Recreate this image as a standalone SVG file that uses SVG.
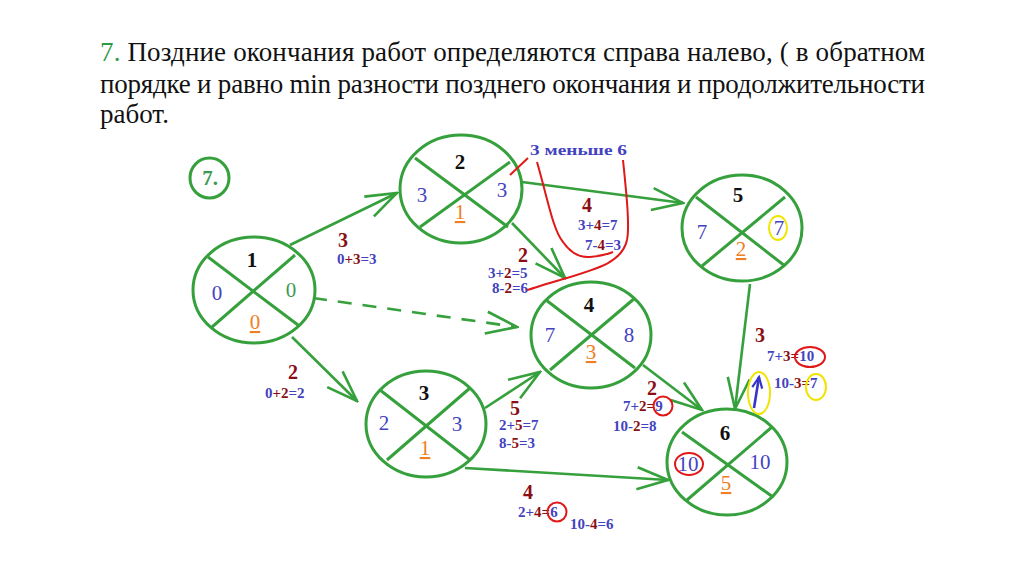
<svg xmlns="http://www.w3.org/2000/svg" width="1024" height="574" viewBox="0 0 1024 574" font-family="Liberation Serif, serif">
<style>
.title{font-size:27px;fill:#111}
.node .ring{fill:none;stroke:#35a03c;stroke-width:3}
.node line{stroke:#35a03c;stroke-width:3}
.n{font-size:21px;text-anchor:middle}
.num{font-weight:bold;fill:#111}
.bl{fill:#4343c0}
.or{fill:#f07e22;text-decoration:underline}
.gr{fill:#3c9a55}
.w{font-size:20px;font-weight:bold;fill:#8a0f14;text-anchor:middle}
.f{font-size:15px;font-weight:bold;fill:#4343c0}
.r{fill:#8a0f14}
.edge{fill:none;stroke:#35a03c;stroke-width:2.6;marker-end:url(#ah)}
.red{fill:none;stroke:#e01818;stroke-width:2}
.yel{fill:none;stroke:#f0e400;stroke-width:2}
</style>
<defs>
<marker id="ah" markerUnits="userSpaceOnUse" markerWidth="34" markerHeight="28" viewBox="0 0 34 28" refX="32" refY="14" orient="auto">
<path d="M1,3 L32,14 L1,25" fill="none" stroke="#35a03c" stroke-width="2.6"/>
</marker>
<marker id="bh" markerUnits="userSpaceOnUse" markerWidth="14" markerHeight="14" viewBox="0 0 14 14" refX="12" refY="7" orient="auto">
<path d="M1,2 L12,7 L1,12" fill="none" stroke="#3535c8" stroke-width="2.2"/>
</marker>
</defs>
<rect width="1024" height="574" fill="#fff"/>

<g id="title">
<text class="title" x="100" y="61" textLength="825" lengthAdjust="spacing"><tspan fill="#2e9a48">7.</tspan> Поздние окончания работ определяются справа налево, ( в обратном</text>
<text class="title" x="100" y="93" textLength="825" lengthAdjust="spacing">порядке и равно min разности позднего окончания и продолжительности</text>
<text class="title" x="100" y="123">работ.</text>
</g>

<g id="step-label" class="node">
<ellipse class="ring" cx="209.5" cy="178" rx="19.5" ry="20"/>
<text class="n" x="210" y="185" fill="#3c9a55" font-weight="bold" font-size="18">7.</text>
</g>

<g id="connectors">
<line class="edge" x1="290" y1="245" x2="397" y2="193"/>
<line class="edge" x1="313" y1="298" x2="517" y2="327" stroke-dasharray="14 11"/>
<line class="edge" x1="292" y1="337" x2="357" y2="401"/>
<line class="edge" x1="522" y1="182" x2="683" y2="203"/>
<line class="edge" x1="512" y1="223" x2="565" y2="278"/>
<line class="edge" x1="485" y1="408" x2="540" y2="372"/>
<line class="edge" x1="465" y1="468" x2="668" y2="480"/>
<line class="edge" x1="643" y1="365" x2="702" y2="410"/>
<line class="edge" x1="750" y1="284" x2="735" y2="409"/>
</g>

<g id="node1" class="node">
<ellipse class="ring" cx="254" cy="290" rx="61" ry="53"/>
<line x1="208" y1="257" x2="298" y2="325"/>
<line x1="295" y1="255" x2="212" y2="327"/>
<text class="n num" x="252" y="267">1</text>
<text class="n bl" x="217" y="300">0</text>
<text class="n gr" x="291" y="297">0</text>
<text class="n or" x="255" y="329">0</text>
</g>

<g id="node2" class="node">
<ellipse class="ring" cx="461" cy="189" rx="61" ry="54"/>
<line x1="415" y1="158" x2="508" y2="227"/>
<line x1="510" y1="162" x2="420" y2="227"/>
<text class="n num" x="460" y="169">2</text>
<text class="n bl" x="422" y="202">3</text>
<text class="n bl" x="502" y="197">3</text>
<text class="n or" x="460" y="219">1</text>
</g>

<g id="node3" class="node">
<ellipse class="ring" cx="426" cy="424" rx="60" ry="53"/>
<line x1="380" y1="390" x2="470" y2="460"/>
<line x1="470" y1="388" x2="387" y2="460"/>
<text class="n num" x="424" y="400">3</text>
<text class="n bl" x="384" y="430">2</text>
<text class="n bl" x="457" y="431">3</text>
<text class="n or" x="425" y="455">1</text>
</g>

<g id="node4" class="node">
<ellipse class="ring" cx="591" cy="335" rx="60" ry="53"/>
<line x1="546" y1="300" x2="635" y2="368"/>
<line x1="635" y1="298" x2="550" y2="370"/>
<text class="n num" x="589" y="312">4</text>
<text class="n bl" x="550" y="342">7</text>
<text class="n bl" x="629" y="342">8</text>
<text class="n or" x="591" y="359">3</text>
</g>

<g id="node5" class="node">
<ellipse class="ring" cx="742" cy="228" rx="60" ry="53"/>
<line x1="696" y1="197" x2="785" y2="266"/>
<line x1="785" y1="197" x2="702" y2="266"/>
<text class="n num" x="738" y="202">5</text>
<text class="n bl" x="702" y="239">7</text>
<text class="n bl" x="779" y="235">7</text>
<text class="n or" x="741" y="256">2</text>
<ellipse class="yel" cx="778" cy="228" rx="9" ry="12"/>
</g>

<g id="node6" class="node">
<ellipse class="ring" cx="727" cy="462" rx="60" ry="53"/>
<line x1="682" y1="432" x2="773" y2="497"/>
<line x1="772" y1="427" x2="687" y2="500"/>
<text class="n num" x="725" y="440">6</text>
<text class="n bl" x="688" y="471">10</text>
<text class="n bl" x="760" y="469">10</text>
<text class="n or" x="726" y="490">5</text>
<ellipse class="red" cx="689" cy="464" rx="14" ry="11"/>
</g>

<g id="labels">
<text class="w" x="343" y="247">3</text>
<text class="f" x="337" y="264">0<tspan class="r">+3</tspan>=3</text>

<text class="w" x="293" y="379">2</text>
<text class="f" x="265" y="398">0<tspan class="r">+2</tspan>=2</text>

<text class="f" x="530" y="155" font-size="19" textLength="97" lengthAdjust="spacingAndGlyphs">3 меньше 6</text>

<text class="w" x="587" y="212">4</text>
<text class="f" x="578" y="230">3+<tspan class="r">4</tspan>=7</text>
<text class="f" x="585" y="250">7-<tspan class="r">4</tspan>=3</text>

<text class="w" x="523" y="262">2</text>
<text class="f" x="488" y="278">3+<tspan class="r">2</tspan>=5</text>
<text class="f" x="492" y="293">8-<tspan class="r">2</tspan>=6</text>

<text class="w" x="515" y="415">5</text>
<text class="f" x="499" y="430">2+<tspan class="r">5</tspan>=7</text>
<text class="f" x="499" y="448">8-<tspan class="r">5</tspan>=3</text>

<text class="w" x="528" y="499">4</text>
<text class="f" x="518" y="517">2+<tspan class="r">4=</tspan>6</text>
<text class="f" x="570" y="529">10-<tspan class="r">4</tspan>=6</text>
<circle class="red" cx="557" cy="512" r="9.5"/>

<text class="w" x="652" y="395">2</text>
<text class="f" x="623" y="411">7+<tspan class="r">2=</tspan>9</text>
<text class="f" x="613" y="431">10-<tspan class="r">2</tspan>=8</text>
<circle class="red" cx="663" cy="406" r="9.5"/>

<text class="w" x="760" y="342">3</text>
<text class="f" x="767" y="361">7+<tspan class="r">3=</tspan>10</text>
<text class="f" x="774" y="388">10-<tspan class="r">3=</tspan>7</text>
<ellipse class="red" cx="810" cy="357" rx="15" ry="10"/>
<ellipse class="yel" cx="816" cy="387" rx="10" ry="13"/>
<ellipse class="yel" cx="759" cy="393" rx="11" ry="21"/>
<line x1="754" y1="408" x2="759" y2="377" stroke="#3535c8" stroke-width="2.6" marker-end="url(#bh)"/>

<path class="red" d="M510,175 L528,158"/>
<path class="red" d="M537,162 C548,200 553,230 563,242 C570,252 578,258 590,257 C600,256 608,254 613,252"/>
<path class="red" d="M623,160 C626,190 630,225 627,240 C622,262 600,268 560,280 C545,284 535,288 527,290"/>
</g>
</svg>
